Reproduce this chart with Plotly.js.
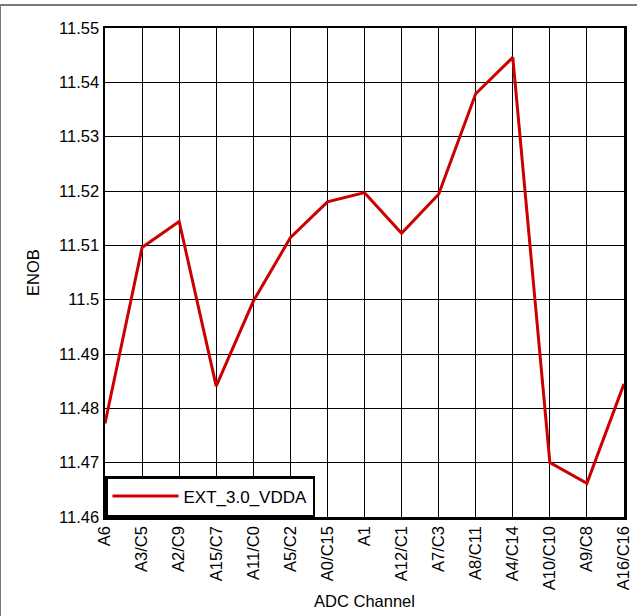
<!DOCTYPE html>
<html>
<head>
<meta charset="utf-8">
<script src="https://cdn.plot.ly/plotly-3.0.1.min.js"></script>
<style>
  html, body { margin: 0; padding: 0; background: #fff; }
  #wrap { position: relative; width: 637px; height: 616px; }
  #chart { position: absolute; left: 0; top: 0; width: 637px; height: 616px; }
  #frame { position: absolute; left: 0; top: 4px; width: 650px; height: 650px;
           border-top: 2px solid #7a7a7a; border-left: 1px solid #7a7a7a; pointer-events: none; }
</style>
</head>
<body>
<div id="wrap">
  <div id="chart"></div>
  <div id="frame"></div>
</div>
<script>
const channels = ["A6", "A3/C5", "A2/C9", "A15/C7", "A11/C0", "A5/C2", "A0/C15", "A1",
                  "A12/C1", "A7/C3", "A8/C11", "A4/C14", "A10/C10", "A9/C8", "A16/C16"];
const enob = [11.4772, 11.5096, 11.5144, 11.4841, 11.4997, 11.5114, 11.5180, 11.5197,
              11.5122, 11.5194, 11.5379, 11.5446, 11.4700, 11.4662, 11.4845];
const seriesName = "EXT_3.0_VDDA";
const yTickVals = [11.46, 11.47, 11.48, 11.49, 11.5, 11.51, 11.52, 11.53, 11.54, 11.55];
const yTickText = ["11.46", "11.47", "11.48", "11.49", "11.5", "11.51", "11.52", "11.53", "11.54", "11.55"];

const font = { family: "Arial, 'Liberation Sans', sans-serif", size: 16.5, color: "#000" };
const legendFont = { family: "Arial, 'Liberation Sans', sans-serif", size: 17, color: "#000" };

const trace = {
  type: "scatter",
  mode: "lines",
  x: channels,
  y: enob,
  name: seriesName,
  line: { color: "#cc0000", width: 3 },
  showlegend: true
};

const layout = {
  width: 637,
  height: 616,
  margin: { l: 105, r: 13, t: 28, b: 99 },
  paper_bgcolor: "#fff",
  plot_bgcolor: "#fff",
  font: font,
  showlegend: true,
  legend: {
    x: 0, y: 0, xanchor: "left", yanchor: "bottom",
    bgcolor: "#fff", bordercolor: "#000", borderwidth: 2.5,
    font: legendFont, itemwidth: 66
  },
  xaxis: {
    type: "category",
    categoryarray: channels,
    range: [0, channels.length - 1],
    tickangle: -90,
    showgrid: true, gridcolor: "#000", gridwidth: 1,
    showline: true, linecolor: "#000", linewidth: 2.5, mirror: true,
    ticks: "", zeroline: false,
    tickfont: font,
    title: { text: "ADC Channel", font: font, standoff: 6 },
    automargin: false
  },
  yaxis: {
    range: [11.46, 11.55],
    tickvals: yTickVals,
    ticktext: yTickText,
    showgrid: true, gridcolor: "#000", gridwidth: 1,
    showline: true, linecolor: "#000", linewidth: 2.5, mirror: true,
    ticks: "", zeroline: false,
    tickfont: font,
    title: { text: "ENOB", font: font, standoff: 16 },
    automargin: false
  }
};

Plotly.newPlot("chart", [trace], layout, { displayModeBar: false, staticPlot: true });
</script>
</body>
</html>
